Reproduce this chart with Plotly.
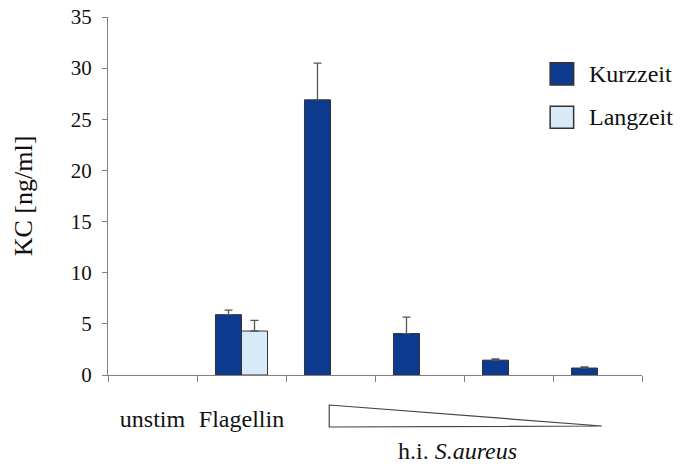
import plotly.graph_objects as go

# Stimulation conditions (four decreasing doses of heat-inactivated S. aureus)
categories = ["unstim", "Flagellin", "S.aureus 1", "S.aureus 2", "S.aureus 3", "S.aureus 4"]
tick_labels = ["unstim", "Flagellin", "", "", "", ""]

# KC concentration [ng/ml] and upper error bar (SD); unstim below detection
kurzzeit = [None, 5.9, 26.9, 4.05, 1.45, 0.68]
kurzzeit_err = [None, 0.45, 3.6, 1.6, 0.12, 0.12]
langzeit = [None, 4.3, None, None, None, None]
langzeit_err = [None, 1.05, None, None, None, None]

DARK = "#0b3a8f"
LIGHT = "#d8eaf8"
EDGE = "#333333"
AXIS = "#808080"
FAMILY = '"Liberation Serif", "Times New Roman", serif'


def serif(size):
    return dict(family=FAMILY, size=size, color="#111111")


fig = go.Figure()
for name, vals, errs, col in [("Kurzzeit", kurzzeit, kurzzeit_err, DARK),
                               ("Langzeit", langzeit, langzeit_err, LIGHT)]:
    fig.add_trace(go.Bar(
        name=name, x=categories, y=vals,
        marker=dict(color=col, line=dict(color=EDGE, width=1)),
        error_y=dict(type="data", symmetric=False, array=errs,
                     arrayminus=[0] * len(errs), color="#555555",
                     thickness=1.3, width=4, visible=True),
        showlegend=False,
    ))

fig.update_layout(
    width=682, height=468,
    margin=dict(l=108, r=40, t=17, b=93),
    paper_bgcolor="white", plot_bgcolor="white",
    barmode="group", bargap=0.415, bargroupgap=0,
    font=serif(21),
)

fig.update_yaxes(
    range=[0, 35], dtick=5, tick0=0, automargin=False,
    showline=True, linecolor=AXIS, linewidth=1,
    ticks="outside", ticklen=5, tickcolor=AXIS,
    showgrid=False, zeroline=False,
    tickfont=serif(21), ticklabelstandoff=6,
    title=dict(text="KC [ng/ml]", font=serif(26), standoff=30),
)
fig.update_xaxes(
    type="category", tickvals=categories, ticktext=tick_labels,
    automargin=False, tickangle=0,
    showline=True, linecolor=AXIS, linewidth=1,
    ticks="outside", ticklen=6, tickcolor=AXIS, tickson="boundaries",
    showgrid=False, zeroline=False,
    tickfont=serif(24), ticklabelstandoff=22,
)

# Dose wedge below the S. aureus groups
fig.add_shape(type="path", xref="paper", yref="paper",
              path="M 0.4143 -0.0838 L 0.925 -0.1425 L 0.4143 -0.1453 Z",
              line=dict(color="#444444", width=1.2), fillcolor="white")
fig.add_annotation(xref="paper", yref="paper", x=0.655, y=-0.212,
                   text="h.i. <i>S.aureus</i>", showarrow=False,
                   font=serif(24), xanchor="center", yanchor="middle")

# Legend drawn as swatches + labels
legend_items = [("Kurzzeit", DARK, 0.872, 0.810), ("Langzeit", LIGHT, 0.751, 0.689)]
for label, col, ytop, ybot in legend_items:
    fig.add_shape(type="rect", xref="paper", yref="paper",
                  x0=0.828, x1=0.872, y0=ybot, y1=ytop,
                  fillcolor=col, line=dict(color=EDGE, width=1.5))
    fig.add_annotation(xref="paper", yref="paper", x=0.897, y=(ytop + ybot) / 2,
                       text=label, showarrow=False, font=serif(24),
                       xanchor="left", yanchor="middle")

fig.write_html("out.html")
